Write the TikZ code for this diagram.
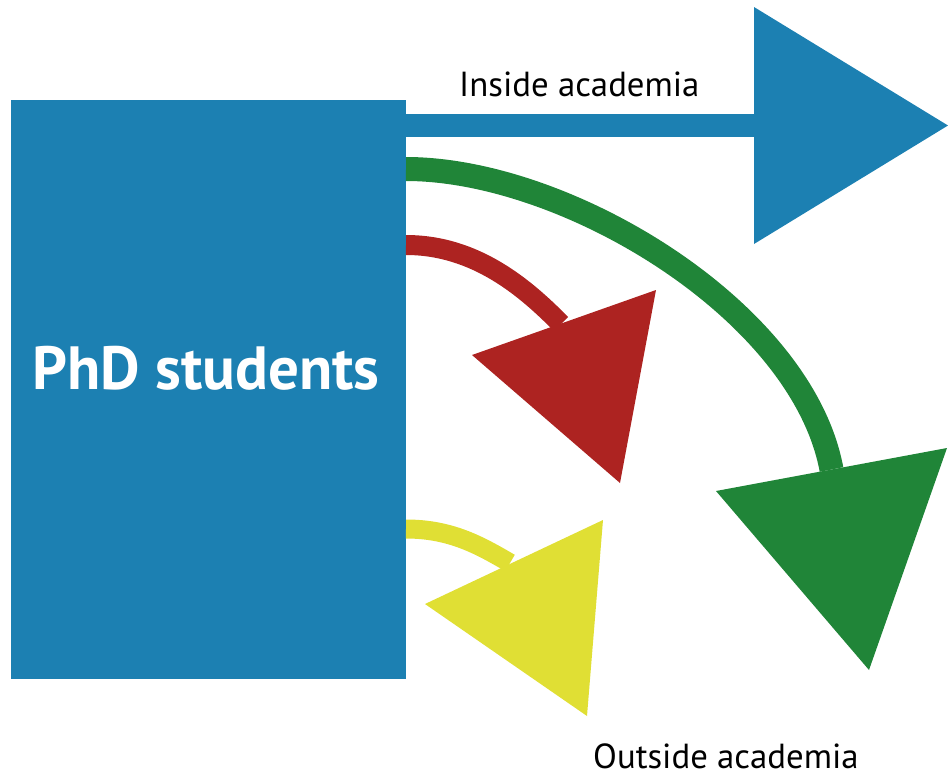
\documentclass[tikz,border=0pt]{standalone}
\usepackage{fontspec}
\setmainfont{PT Sans}
\definecolor{phdblue}{RGB}{28,128,178}
\definecolor{pgreen}{RGB}{32,133,56}
\definecolor{pred}{RGB}{173,35,33}
\definecolor{pyellow}{RGB}{224,223,52}
\begin{document}
\begin{tikzpicture}[x=1pt,y=-1pt,
  lbl/.style={text=black, inner sep=0, font=\fontsize{34.8}{34.8}\selectfont},
  shaft/.style={line width=#1, line cap=butt}]
\useasboundingbox (0,0) rectangle (948,774);
\node[fill=phdblue, minimum width=395pt, minimum height=579pt, inner sep=0, outer sep=0, anchor=north west] (phd) at (11,100) {};
\node[text=white, inner sep=0, font=\bfseries\fontsize{61}{61}\selectfont, anchor=base] (phdlbl) at (206,389) {PhD students};
% blue arrow
\coordinate (bS) at (406,125.5);
\coordinate (bB) at (756,125.5);
\draw[phdblue, shaft=23pt] (bS) -- (bB);
\fill[phdblue] (754,7) -- (948,125.5) -- (754,244) -- cycle;
\node[lbl, anchor=base west] (inside) at (459,96) {Inside academia};
% green arrow
\coordinate (gS) at (406,169);
\coordinate (gB) at (831.5,469.5);
\draw[pgreen, shaft=24pt] (gS) .. controls (567,169) and (802,311) .. (gB);
\fill[pgreen] (716,491) -- (947,448) -- (869,670) -- cycle;
% red arrow
\coordinate (rS) at (406,245);
\coordinate (rB) at (561,324);
\draw[pred, shaft=20pt] (rS) .. controls (476,245) and (526,288.5) .. (rB);
\fill[pred] (656,290) -- (620,483) -- (472,355) -- cycle;
% yellow arrow
\coordinate (yS) at (406,529);
\coordinate (yB) at (510,563);
\draw[pyellow, shaft=19pt] (yS) .. controls (451,529) and (480,545.5) .. (yB);
\fill[pyellow] (603,520) -- (587,716) -- (425,604) -- cycle;
\node[lbl, anchor=base west] (outside) at (593,768) {Outside academia};
\end{tikzpicture}
\end{document}
